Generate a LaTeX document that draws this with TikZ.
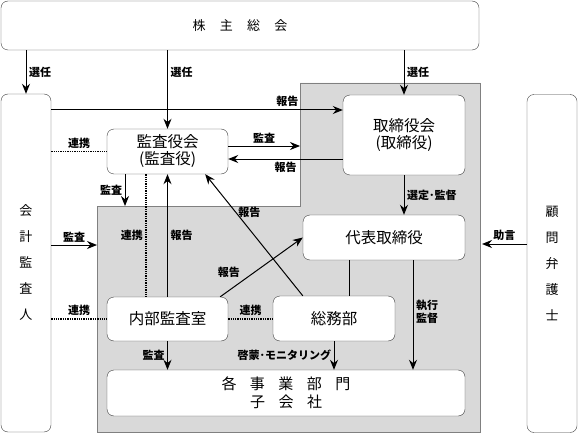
\documentclass[tikz,border=0pt]{standalone}
\usepackage{fontspec}
\setmainfont{Noto Sans CJK JP}
\usetikzlibrary{arrows.meta}

\begin{document}
\begin{tikzpicture}[x=1pt,y=-1pt,
    box/.style={draw=black!75,fill=white,rounded corners=7pt,align=center,inner sep=0pt,font=\fontsize{15.5}{17}\selectfont},
    tallbox/.style={box,minimum width=50pt,minimum height=338pt,font=\fontsize{13}{26}\selectfont},
    arr/.style={-{Stealth[length=10pt,width=8pt]},line width=1pt},
    link/.style={densely dotted,line width=1.3pt},
    lbl/.style={font=\fontsize{11}{13}\selectfont\bfseries,inner sep=2.5pt}]
        \useasboundingbox (0,0) rectangle (578,433);

        % Executive area
        \fill[black!15,draw=black!50,line width=0.8pt] (300,83) -- (480,83) -- (480,432) -- (97,432) -- (97,206) -- (300,206) -- cycle;

        % Boxes
        \node[box,minimum width=478pt,minimum height=49pt,font=\fontsize{13}{15}\selectfont] (kabu) at (240,25.5) {株\hspace{1.1em}主\hspace{1.1em}総\hspace{1.1em}会};
        \node[tallbox] (kaikei) at (26,263) {会\\計\\監\\査\\人};
        \node[tallbox] (komon) at (552,263.5) {顧\\問\\弁\\護\\士};
        \node[box,minimum width=121pt,minimum height=45pt] (kansa) at (167.5,151.5) {監査役会\\(監査役)};
        \node[box,minimum width=122pt,minimum height=80pt] (tori) at (404,135) {取締役会\\(取締役)};
        \node[box,minimum width=162pt,minimum height=45pt] (daihyo) at (384,237.5) {代表取締役};
        \node[box,minimum width=121pt,minimum height=44pt] (naibu) at (167.5,319) {内部監査室};
        \node[box,minimum width=122pt,minimum height=45pt] (somu) at (334,318.5) {総務部};
        \node[box,minimum width=358pt,minimum height=46pt,font=\fontsize{15}{18}\selectfont] (jigyo) at (286,393) {各\hspace{0.9em}事\hspace{0.9em}業\hspace{0.9em}部\hspace{0.9em}門\\子\hspace{0.9em}会\hspace{0.9em}社};

        % Free ends on the executive area
        \coordinate (g1) at (300,146);
        \coordinate (g2) at (125,206);
        \coordinate (g3) at (482,244);
        \coordinate (g4) at (97,245);
        \coordinate (r1) at ([yshift=25pt]tori.west);
        \coordinate (k2) at ([yshift=-7.5pt]kansa.east);
        \coordinate (s1) at ([xshift=15pt]somu.north);
        \coordinate (d1) at ([xshift=29pt]daihyo.south);

        % Election
        \draw[arr] (kabu.south -| kaikei) -- (kaikei.north) node[lbl,right,midway] (l1) {選任};
        \draw[arr] (kabu.south -| kansa) -- (kansa.north) node[lbl,right,pos=0.28] (l2) {選任};
        \draw[arr] (kabu.south -| tori) -- (tori.north) node[lbl,right,pos=0.49] (l3) {選任};

        % Audit and reports
        \draw[arr] (kaikei.east |- r1) -- (r1) node[lbl,above,pos=0.81] (l4) {報告};
        \draw[link] (kaikei.east |- kansa.west) -- (kansa.west) node[lbl,above,midway] (l5) {連携};
        \draw[arr] (kansa.east |- g1) -- (g1) node[lbl,above,midway] (l6) {監査};
        \draw[arr] (tori.west |- k2) -- (k2) node[lbl,below,midway] (l7) {報告};
        \draw[arr] (kansa.south -| g2) -- (g2) node[lbl,left,midway] (l8) {監査};
        \draw[link] ([xshift=-21.5pt]kansa.south) -- ([xshift=-21.5pt]naibu.north) node[lbl,left,midway] (l9) {連携};
        \draw[arr] (naibu.north) -- (kansa.south) node[lbl,right,midway] (l10) {報告};
        \draw[arr] ([xshift=30pt]somu.north west) -- ([xshift=-23pt]kansa.south east) node[lbl,right,pos=0.69] (l11) {報告};
        \draw[arr] ([xshift=-8pt]naibu.north east) -- (daihyo.west) node[lbl,left=12pt,pos=0.42] (l12) {報告};
        \draw[arr] (tori.south) -- (tori.south |- daihyo.north) node[lbl,right,midway] (l13) {選定･監督};
        \draw[arr] (komon.west |- g3) -- (g3) node[lbl,above,midway] (l14) {助言};
        \draw[arr] (kaikei.east |- g4) -- (g4) node[lbl,above,midway] (l15) {監査};
        \draw[link] (kaikei.east |- naibu.west) -- (naibu.west) node[lbl,above,midway] (l16) {連携};
        \draw[link] (naibu.east) -- (naibu.east -| somu.west) node[lbl,above,midway] (l17) {連携};

        % Execution
        \draw[line width=1pt] (s1) -- (s1 |- daihyo.south);
        \draw[arr] (d1) -- (d1 |- jigyo.north) node[lbl,right,pos=0.47,align=left] (l18) {執行\\監督};
        \draw[arr] (naibu.south) -- (naibu.south |- jigyo.north) node[lbl,left,midway] (l19) {監査};
        \draw[arr] (somu.south) -- (somu.south |- jigyo.north) node[lbl,left,midway] (l20) {啓蒙･モニタリング};
      \end{tikzpicture}
\end{document}
